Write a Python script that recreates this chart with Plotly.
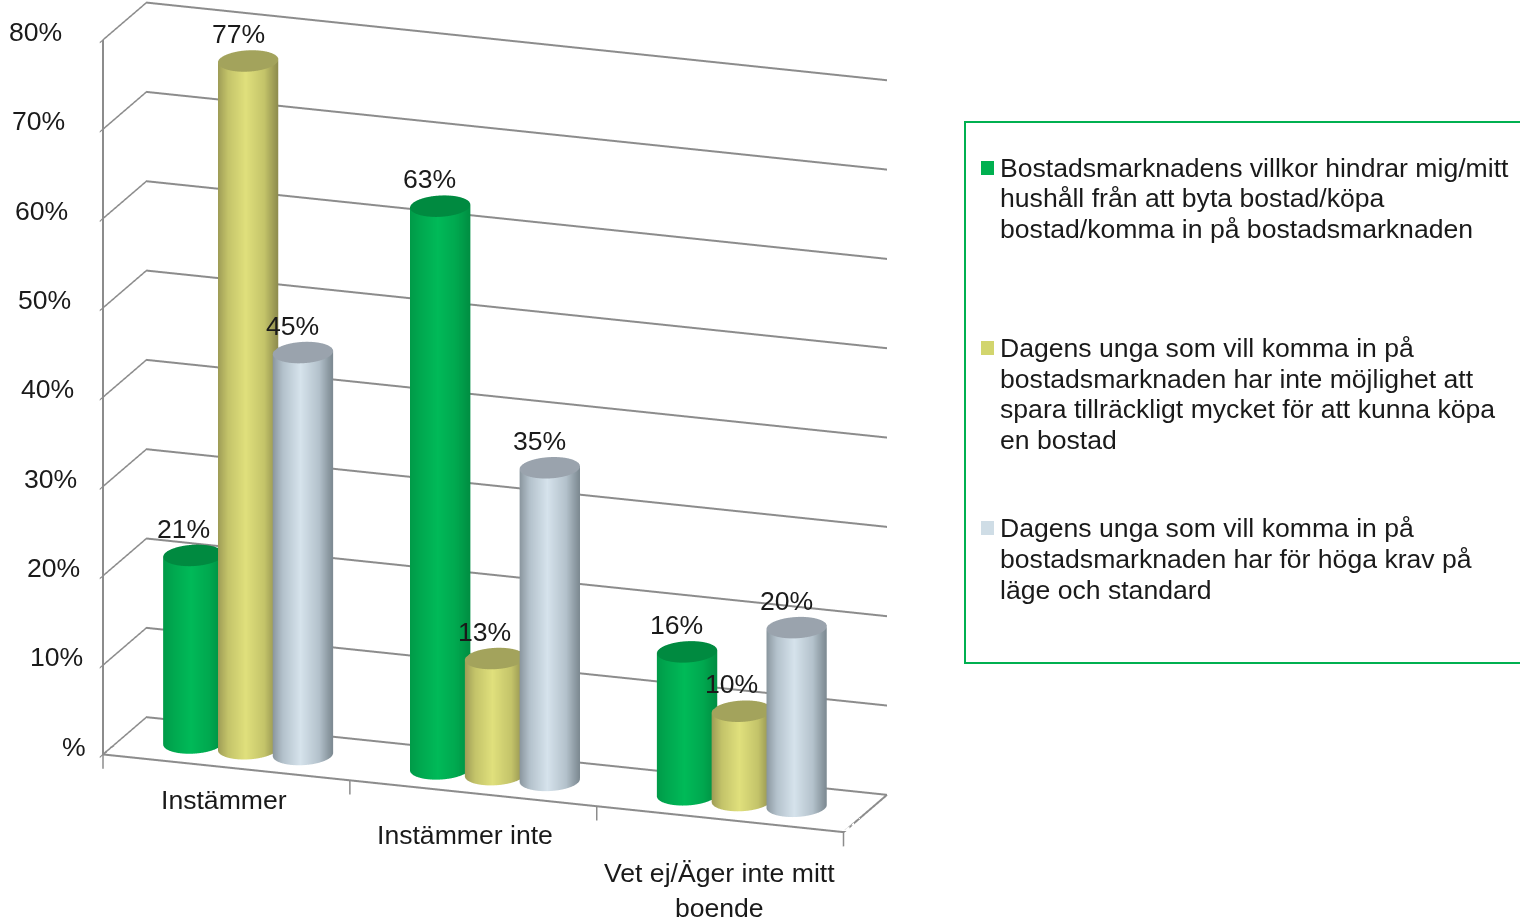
import numpy as np
import plotly.graph_objects as go

categories = ["Instämmer", "Instämmer inte", "Vet ej/Äger inte mitt<br>boende"]
series_lines = [
    ["Bostadsmarknadens villkor hindrar mig/mitt", "hushåll från att byta bostad/köpa", "bostad/komma in på bostadsmarknaden"],
    ["Dagens unga som vill komma in på", "bostadsmarknaden har inte möjlighet att",
     "spara tillräckligt mycket för att kunna köpa", "en bostad"],
    ["Dagens unga som vill komma in på", "bostadsmarknaden har för höga krav på", "läge och standard"],
]
series_a = [21, 63, 16]
series_b = [77, 13, 10]
series_c = [45, 35, 20]
z_ticks = [0, 10, 20, 30, 40, 50, 60, 70, 80]
z_labels = ["%", "10%", "20%", "30%", "40%", "50%", "60%", "70%", "80%"]

values = [series_a, series_b, series_c]
swatch = ["#00b050", "#d2d56d", "#cfdde6"]
body = [["#008f42", "#00a84f", "#00ba58", "#00a84f", "#009a48"],
        ["#8f8d4e", "#c4c46a", "#e0e07c", "#c4c46a", "#9c9a55"],
        ["#7d8a92", "#b4c2cc", "#d6e3ec", "#b4c2cc", "#88949c"]]
caps = ["#008a40", "#a3a35c", "#9aa3ad"]
FONT = dict(family="Liberation Sans", size=26.6, color="#1a1a1a")
GRID = "#8c8c8c"

X0, X1 = -0.5, 2.5
Y0, Y1 = 0.0, 1.0
Z0, Z1 = 0, 80
ZBOT = -1.6
ASPECT = dict(x=1.848, y=0.31, z=1.80)
EYE = dict(x=0.39, y=-1.116, z=0.372)
OFFSET = 0.222
RX = 0.112
RY = 1.25 * RX * (ASPECT["x"] / (X1 - X0)) / (ASPECT["y"] / (Y1 - Y0))
FLAT = dict(ambient=1, diffuse=0, specular=0, fresnel=0)
VIEW = np.arctan2(EYE["y"], EYE["x"])
CAT_XSHIFT = [-2, -8, 0]
CAT_YSHIFT = [-15, -25, -37]

fig = go.Figure()
theta = np.linspace(0, 2 * np.pi, 73)
scene_notes = []
for s, vals in enumerate(values):
    cs = [[p, col] for p, col in zip([0, 0.2, 0.5, 0.8, 1], body[s])]
    xc = [c + (s - 1) * OFFSET for c in range(3)]
    for c, v in enumerate(vals):
        xs = xc[c] + RX * np.cos(theta)
        ys = 0.5 + RY * np.sin(theta)
        shade = (1 - np.sin(theta - VIEW)) / 2
        fig.add_trace(go.Surface(x=np.vstack([xs, xs]), y=np.vstack([ys, ys]),
                                 z=np.vstack([np.zeros_like(xs), np.full_like(xs, v)]),
                                 surfacecolor=np.vstack([shade, shade]),
                                 colorscale=cs, cmin=0, cmax=1, showscale=False, hoverinfo="skip", lighting=FLAT,
                                 name=" ".join(series_lines[s])))
        fig.add_trace(go.Surface(x=np.vstack([xs, np.full_like(xs, xc[c])]),
                                 y=np.vstack([ys, np.full_like(ys, 0.5)]),
                                 z=np.full((2, xs.size), v), surfacecolor=np.zeros((2, xs.size)),
                                 colorscale=[[0, caps[s]], [1, caps[s]]], showscale=False, hoverinfo="skip",
                                 lighting=FLAT))
        scene_notes.append(dict(x=xc[c], y=0.5, z=v, text=f"{v}%", showarrow=False, yshift=27, xshift=-10, font=FONT))

ex = [X0, X1, X1, None, X0, X0, None, X0, X0]
ey = [Y0, Y0, Y1, None, Y0, Y1, None, Y0, Y0]
ez = [Z0, Z0, Z0, None, Z0, Z0, None, Z0, Z1]
fig.add_trace(go.Scatter3d(x=ex, y=ey, z=ez, mode="lines", line=dict(color=GRID, width=4),
                           showlegend=False, hoverinfo="skip"))
tx, ty, tz = [], [], []
for b in [X0, X0 + 1, X0 + 2, X1]:
    tx += [b, b, None]; ty += [Y0, Y0, None]; tz += [Z0, ZBOT, None]
fig.add_trace(go.Scatter3d(x=tx, y=ty, z=tz, mode="lines", line=dict(color=GRID, width=3),
                           showlegend=False, hoverinfo="skip"))

for t, lab in zip(z_ticks, z_labels):
    scene_notes.append(dict(x=X0, y=Y0, z=t, text=lab, showarrow=False, xanchor="right",
                            xshift=-15 - 24 * t / Z1, yshift=8, font=FONT))
for i, t in enumerate(categories):
    scene_notes.append(dict(x=i, y=Y0, z=Z0, text=t, showarrow=False, yanchor="top",
                            yshift=CAT_YSHIFT[i], xshift=CAT_XSHIFT[i], font=FONT))

annotations = []
shapes = [dict(type="rect", xref="paper", yref="paper", x0=965 / 1520, x1=1.02, y0=1 - 663 / 918, y1=1 - 122 / 918,
               line=dict(color="#00b050", width=2), fillcolor="rgba(0,0,0,0)")]
LINE_Y = [[168, 198, 229], [348, 379, 409, 440], [528, 559, 590]]
for s, lines in enumerate(series_lines):
    top = LINE_Y[s][0]
    shapes.append(dict(type="rect", xref="paper", yref="paper", x0=981 / 1520, x1=994 / 1520,
                       y0=1 - (top + 7) / 918, y1=1 - (top - 7) / 918, fillcolor=swatch[s], line_width=0))
    for line, py in zip(lines, LINE_Y[s]):
        annotations.append(dict(xref="paper", yref="paper", x=998 / 1520, y=1 - py / 918, text=line, showarrow=False,
                                xanchor="left", yanchor="middle", font=FONT))

axis_off = dict(showgrid=False, showline=False, zeroline=False, showticklabels=False, ticks="",
                showbackground=False, title="", showspikes=False)
fig.update_layout(
    width=1520, height=918, margin=dict(l=0, r=0, t=0, b=0), paper_bgcolor="white", showlegend=False,
    font=FONT,
    scene=dict(
        domain=dict(x=[0, 0.651], y=[0.075, 1]),
        aspectmode="manual", aspectratio=ASPECT,
        xaxis=dict(axis_off, range=[X0, X1]),
        yaxis=dict(axis_off, range=[Y0, Y1]),
        zaxis=dict(range=[ZBOT, Z1], tickvals=z_ticks, showticklabels=False, showgrid=True, gridcolor=GRID,
                   gridwidth=4, zeroline=False, showline=False, showbackground=False, title="", ticks="outside",
                   ticklen=8, tickcolor=GRID, tickwidth=3, showspikes=False),
        camera=dict(eye=EYE, center=dict(x=0, y=0, z=0), projection=dict(type="orthographic")),
        annotations=scene_notes,
    ),
    annotations=annotations,
    shapes=shapes,
)
fig.write_html("out.html", config=dict(displayModeBar=False),
               post_script="document.body.style.margin='0';document.body.style.overflow='hidden';")
